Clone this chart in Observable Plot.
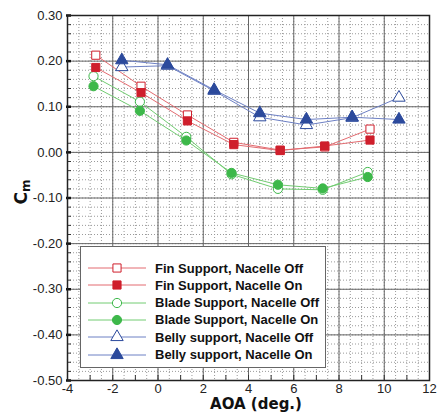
<!DOCTYPE html>
<html><head><meta charset="utf-8">
<script src="https://cdn.jsdelivr.net/npm/d3@7"></script>
<script src="https://cdn.jsdelivr.net/npm/@observablehq/plot@0.6"></script>
<style>
body{margin:0;background:#fff;}
#wrap{position:relative;width:438px;height:412px;font-family:"Liberation Sans",Arial,sans-serif;overflow:hidden;}
#chart svg{display:block;}
#legend{position:absolute;left:80px;top:246px;width:246px;height:122px;background:#fff;border:1.5px solid #666;box-sizing:border-box;}
.row{position:absolute;left:6px;height:18px;display:flex;align-items:center;font-weight:bold;font-size:13px;color:#111;white-space:nowrap;}
.row svg{margin-right:8px;}
#ylab{position:absolute;left:22px;top:192px;transform:translate(-50%,-50%) rotate(-90deg);font-family:"DejaVu Sans",sans-serif;font-weight:bold;font-size:17px;color:#111;white-space:nowrap;}
#ylab sub{font-size:12px;vertical-align:-3px;}
#xlab{position:absolute;left:256px;top:397px;transform:translateX(-50%);font-family:"DejaVu Sans",sans-serif;font-weight:bold;font-size:15px;line-height:15px;color:#111;white-space:nowrap;}
</style></head>
<body>
<div id="wrap">
  <div id="chart"></div>
  <div id="legend"></div>
  <div id="ylab">C<sub>m</sub></div>
  <div id="xlab">AOA (deg.)</div>
</div>
<script>
// ---- data ----
const finX = [-2.75, -0.75, 1.3, 3.35, 5.4, 7.37, 9.37];
const finOffY = [0.213, 0.145, 0.082, 0.022, 0.005, 0.012, 0.051];
const finOnY = [0.186, 0.131, 0.069, 0.017, 0.004, 0.014, 0.027];
const bladeX = [-2.85, -0.8, 1.25, 3.25, 5.3, 7.28, 9.27];
const bladeOffY = [0.167, 0.111, 0.034, -0.048, -0.080, -0.082, -0.043];
const bladeOnY = [0.145, 0.091, 0.026, -0.045, -0.071, -0.079, -0.054];
const bellyX = [-1.6, 0.42, 2.48, 4.5, 6.56, 8.58, 10.65];
const bellyOffY = [0.187, 0.190, 0.135, 0.077, 0.060, 0.076, 0.120];
const bellyOnY = [0.202, 0.192, 0.137, 0.086, 0.072, 0.077, 0.072];
const seriesNames = ["Fin Support, Nacelle Off","Fin Support, Nacelle On","Blade Support, Nacelle Off","Blade Support, Nacelle On","Belly support, Nacelle Off","Belly support, Nacelle On"];
const xTicks = [-4,-2,0,2,4,6,8,10,12];
const yTicks = [0.3,0.2,0.1,0,-0.1,-0.2,-0.3,-0.4,-0.5];

// ---- styles ----
const RED = "#cf1f2c", REDL = "#e36b70";
const GRN = "#3db84a", GRNL = "#72cc72";
const BLU = "#2c4a9c", BLUL = "#6d80c4";
const R = 4.6;
const series = [
  {name:seriesNames[0], x:finX, y:finOffY, symbol:"square", color:RED, line:REDL, open:true},
  {name:seriesNames[1], x:finX, y:finOnY, symbol:"square", color:RED, line:REDL, open:false},
  {name:seriesNames[2], x:bladeX, y:bladeOffY, symbol:"circle", color:GRN, line:GRNL, open:true},
  {name:seriesNames[3], x:bladeX, y:bladeOnY, symbol:"circle", color:GRN, line:GRNL, open:false},
  {name:seriesNames[4], x:bellyX, y:bellyOffY, symbol:"triangle", color:BLU, line:BLUL, open:true},
  {name:seriesNames[5], x:bellyX, y:bellyOnY, symbol:"triangle", color:BLU, line:BLUL, open:false}
];
series.forEach(s => s.data = s.x.map((x,i) => ({x, y:s.y[i]})));

const xMinor = d3.range(-4, 12.001, 0.5);
const yMinor = d3.range(-0.5, 0.3001, 0.02);
const xUnit = d3.range(-4, 12.001, 1);
const blank = () => "";

const marks = [
  Plot.ruleX(xMinor, {stroke:"#9a9a9a", strokeDasharray:"1,2", strokeWidth:1}),
  Plot.ruleY(yMinor, {stroke:"#9a9a9a", strokeDasharray:"1,2", strokeWidth:1}),
  Plot.ruleX(xTicks, {stroke:"#666", strokeWidth:1}),
  Plot.ruleY(yTicks, {stroke:"#666", strokeWidth:1}),
  Plot.axisY(yMinor, {tickSize:-4, tickFormat:blank, stroke:"#333", label:null}),
  Plot.axisX(xUnit, {tickSize:-5, tickFormat:blank, stroke:"#333", label:null}),
  Plot.axisY(yTicks, {tickSize:5, tickFormat:blank, stroke:"#111", strokeWidth:2.5, dx:4, label:null}),
  Plot.axisY(yTicks, {tickSize:0, tickPadding:5, tickFormat:d => d.toFixed(2), fontSize:13, fill:"#222", label:null}),
  Plot.axisX(xTicks, {tickSize:0, tickPadding:3, tickFormat:d => String(d), fontSize:13, fill:"#222", label:null}),
  Plot.frame({stroke:"#222", strokeWidth:1.5})
];
series.forEach(s => marks.push(Plot.line(s.data, {x:"x", y:"y", stroke:s.line, strokeWidth:1})));
series.filter(s => s.open).forEach(s => marks.push(Plot.dot(s.data, {x:"x", y:"y", symbol:s.symbol, r:R, stroke:s.color, strokeWidth:1, fill:"white"})));
series.filter(s => !s.open).forEach(s => marks.push(Plot.dot(s.data, {x:"x", y:"y", symbol:s.symbol, r:R, stroke:s.color, strokeWidth:1, fill:s.color})));

const chart = Plot.plot({
  width:438, height:412,
  marginLeft:67, marginRight:9, marginTop:15, marginBottom:32,
  style:{fontFamily:"'Liberation Sans', Arial, sans-serif", fontSize:"13px", background:"white"},
  x:{domain:[-4,12], label:null},
  y:{domain:[-0.5,0.3], label:null},
  marks
});
document.getElementById("chart").appendChild(chart);

// ---- legend ----
const leg = document.getElementById("legend");
const symMap = {square:d3.symbolSquare, circle:d3.symbolCircle, triangle:d3.symbolTriangle};
series.forEach((s,i) => {
  const row = document.createElement("div");
  row.className = "row";
  row.style.top = (12 + i*17.3) + "px";
  const svg = d3.create("svg").attr("width", 60).attr("height", 18);
  svg.append("line").attr("x1",1).attr("x2",59).attr("y1",9).attr("y2",9).attr("stroke", s.line).attr("stroke-width",1);
  svg.append("path").attr("transform","translate(30,9)")
    .attr("d", d3.symbol(symMap[s.symbol], Math.PI*R*R)())
    .attr("fill", s.open ? "white" : s.color).attr("stroke", s.color);
  row.appendChild(svg.node());
  const t = document.createElement("span");
  t.textContent = s.name;
  row.appendChild(t);
  leg.appendChild(row);
});
</script>
</body></html>
